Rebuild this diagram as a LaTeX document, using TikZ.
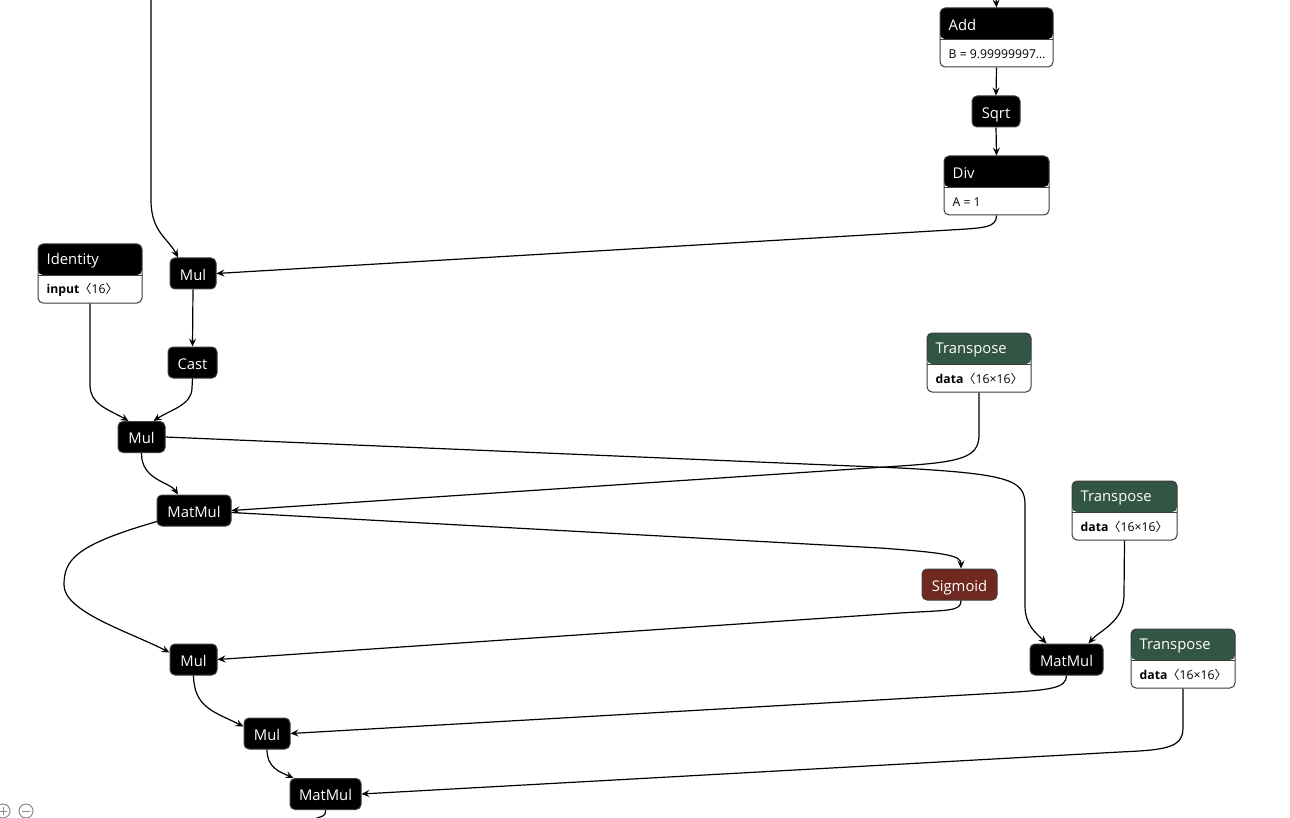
\documentclass[tikz,border=0pt]{standalone}
\usepackage{fontspec}
\setmainfont{Open Sans}
\newfontfamily\symf{Noto Sans CJK SC}
\usetikzlibrary{arrows.meta}
\definecolor{trcol}{RGB}{51,85,68}
\definecolor{actcol}{RGB}{112,41,33}
\definecolor{bord}{RGB}{60,60,60}
\definecolor{btn}{RGB}{140,140,140}
\tikzset{
 op/.style={draw=bord, line width=1pt, rounded corners=5pt, fill=black, text=white, minimum height=31pt, inner sep=0pt, text height=13.5pt, text depth=0pt, font=\fontsize{14.8}{17}\selectfont},
 card/.style={draw=bord, line width=1pt, rounded corners=5pt, fill=white, minimum height=59pt, inner sep=0pt,
   path picture={\fill[#1] (path picture bounding box.north west) rectangle ([yshift=-31pt]path picture bounding box.north east);
   \draw[bord, line width=0.8pt] ([yshift=-31pt]path picture bounding box.north west) -- ([yshift=-31pt]path picture bounding box.north east);}},
 card/.default=black,
 hdr/.style={anchor=west, text=white, inner sep=0pt, font=\fontsize{14.8}{17}\selectfont},
 attr/.style={anchor=west, text=black, inner sep=0pt, font=\fontsize{12.2}{14}\selectfont},
 arr/.style={draw=black, line width=1.2pt, -{Stealth[length=8pt,width=7pt,inset=3pt]}},
 ln/.style={draw=black, line width=1.2pt},
 zbtn/.style={draw=btn, line width=1pt, circle, minimum size=14pt, inner sep=0pt},
}
\newcommand{\shp}[1]{{\symf 〈}#1{\symf 〉}}
\begin{document}
\begin{tikzpicture}[x=1pt,y=-1pt]
\fill[white] (0,0) rectangle (1290,818);
\useasboundingbox (0,0) rectangle (1290,818);

% cards
\node[card, minimum width=113pt] (add) at (996.5,37.5) {};
\node[hdr] (addT) at ([xshift=9pt,yshift=-17.5pt]add.north west) {Add};
\node[attr] (addA) at ([xshift=9pt,yshift=-46.5pt]add.north west) {B = 9.99999997…};

\node[card, minimum width=105pt] (div) at (996.5,185.5) {};
\node[hdr] (divT) at ([xshift=9pt,yshift=-17.5pt]div.north west) {Div};
\node[attr] (divA) at ([xshift=9pt,yshift=-46.5pt]div.north west) {A = 1};

\node[card, minimum width=104pt] (ident) at (90,273.5) {};
\node[hdr] (identT) at ([xshift=9pt,yshift=-17.5pt]ident.north west) {Identity};
\node[attr] (identA) at ([xshift=9pt,yshift=-46.5pt]ident.north west) {\textbf{input}\shp{16}};

\node[card=trcol, minimum width=104pt] (tr1) at (979,362.5) {};
\node[hdr] (tr1T) at ([xshift=9pt,yshift=-17.5pt]tr1.north west) {Transpose};
\node[attr] (tr1A) at ([xshift=9pt,yshift=-46.5pt]tr1.north west) {\textbf{data}\shp{16×16}};

\node[card=trcol, minimum width=105pt] (tr2) at (1124.5,510.5) {};
\node[hdr] (tr2T) at ([xshift=9pt,yshift=-17.5pt]tr2.north west) {Transpose};
\node[attr] (tr2A) at ([xshift=9pt,yshift=-46.5pt]tr2.north west) {\textbf{data}\shp{16×16}};

\node[card=trcol, minimum width=104pt] (tr3) at (1183,658.5) {};
\node[hdr] (tr3T) at ([xshift=9pt,yshift=-17.5pt]tr3.north west) {Transpose};
\node[attr] (tr3A) at ([xshift=9pt,yshift=-46.5pt]tr3.north west) {\textbf{data}\shp{16×16}};

% ops
\node[op, minimum width=48pt] (sqrt) at (996,111.5) {Sqrt};
\node[op, minimum width=46pt] (mul1) at (193,273.5) {Mul};
\node[op, minimum width=49pt] (cast) at (192.5,362.5) {Cast};
\node[op, minimum width=47pt] (mul2) at (141.5,437) {Mul};
\node[op, minimum width=74pt] (mm1) at (194,510.5) {MatMul};
\node[op, minimum width=75pt, fill=actcol] (sig) at (959.5,584.5) {Sigmoid};
\node[op, minimum width=47pt] (mul3) at (193.5,659.5) {Mul};
\node[op, minimum width=73pt] (mm2) at (1066.5,659.5) {MatMul};
\node[op, minimum width=46pt] (mul4) at (267,733.5) {Mul};
\node[op, minimum width=71pt] (mm3) at (325.5,794) {MatMul};

% free ends
\coordinate (topL) at (151,-2);
\coordinate (topR) at (996,-2);
\coordinate (botOut) at (313,820);

% connectors
\draw[arr] (topL) -- (151,200) .. controls (151,232) and (168,238) .. ([xshift=-15pt]mul1.north);
\draw[arr] (topR) -- (add.north);
\draw[arr] (add.south) -- (sqrt.north);
\draw[arr] (sqrt.south) -- (div.north);
\draw[arr] (div.south) .. controls +(0,12) and (985,228) .. (950,230) -- (mul1.east);
\draw[arr] (mul1.south) -- (cast.north);
\draw[arr] (ident.south) -- (90,385) .. controls (90,405) and (110,410) .. ([xshift=-13pt]mul2.north);
\draw[arr] (cast.south) -- (192,388) .. controls (192,405) and (170,410) .. ([xshift=12pt]mul2.north);
\draw[arr] (mul2.east) -- (900,468) .. controls (1010,474) and (1025,480) .. (1025,505) -- (1025,605) .. controls (1025,625) and (1035,632) .. ([xshift=-20pt]mm2.north);
\draw[arr] (mul2.south) .. controls (141,480) and (170,482) .. ([xshift=-16pt]mm1.north);
\draw[arr] (tr1.south) -- (979,435) .. controls (979,458) and (960,462) .. (900,466) -- (mm1.east);
\draw[arr] ([yshift=-2pt]mm1.east) -- (880,548) .. controls (950,553) and (961,556) .. ([xshift=1.5pt]sig.north);
\draw[arr] ([xshift=-37pt,yshift=5pt]mm1.south) .. controls (75,545) and (64,560) .. (64,585) .. controls (64,612) and (130,632) .. ([yshift=7pt]mul3.west);
\draw[arr] ([xshift=1.5pt]sig.south) .. controls +(0,11) and (950,610) .. (900,613) -- (mul3.east);
\draw[arr] (tr2.south) -- (1124,595) .. controls (1124,622) and (1100,630) .. ([xshift=22pt]mm2.north);
\draw[arr] (mul3.south) .. controls (194,708) and (215,712) .. ([yshift=7pt]mul4.west);
\draw[arr] (mm2.south) .. controls +(0,13) and (1050,690) .. (1000,693) -- (mul4.east);
\draw[arr] (mul4.south) .. controls (267,768) and (280,772) .. ([xshift=4pt]mm3.north west);
\draw[arr] (tr3.south) -- (1183,728) .. controls (1183,748) and (1165,750) .. (1120,752) -- (mm3.east);
\draw[ln] (mm3.south) .. controls +(0,8) and (322,815) .. (botOut);

% zoom buttons
\node[zbtn] (zin) at (3,811) {};
\draw[btn, line width=1pt] ([xshift=-4pt]zin.center) -- ([xshift=4pt]zin.center) ([yshift=-4pt]zin.center) -- ([yshift=4pt]zin.center);
\node[zbtn] (zout) at (26,811) {};
\draw[btn, line width=1pt] ([xshift=-4pt]zout.center) -- ([xshift=4pt]zout.center);
\end{tikzpicture}
\end{document}
